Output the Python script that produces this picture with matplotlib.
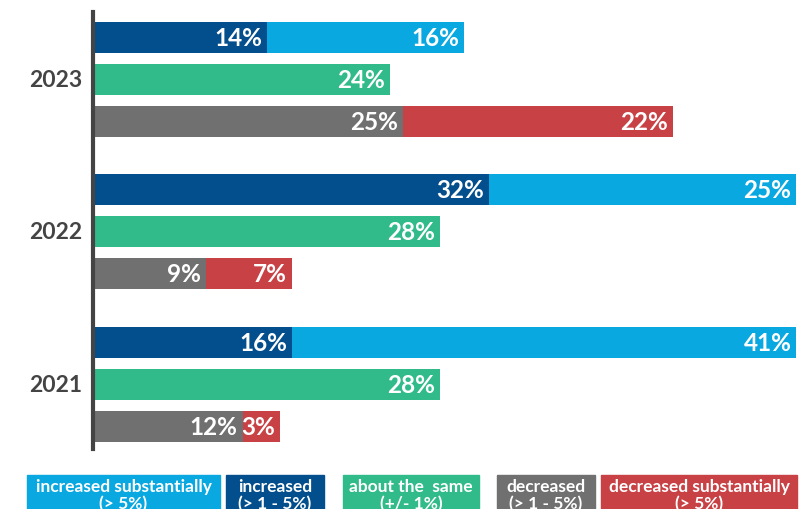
import matplotlib.pyplot as plt
from matplotlib.patches import Rectangle
from matplotlib.transforms import offset_copy

plt.rcParams['font.family'] = ['Lato', 'DejaVu Sans']

YEARS = ['2021', '2022', '2023']
INCREASED = [16, 32, 14]
INCREASED_SUB = [41, 25, 16]
SAME = [28, 28, 24]
DECREASED = [12, 9, 25]
DECREASED_SUB = [3, 7, 22]

LEGEND_LINE1 = ['increased substantially', 'increased', 'about the  same', 'decreased', 'decreased substantially']
LEGEND_LINE2 = ['(> 5%)', '(> 1 - 5%)', '(+/- 1%)', '(> 1 - 5%)', '(> 5%)']

C_INC_SUB = '#0aa8e0'
C_INC = '#034e8c'
C_SAME = '#31bb8a'
C_DEC = '#707070'
C_DEC_SUB = '#c84144'

W, H = 805, 510
fig = plt.figure(figsize=(W / 100, H / 100), dpi=100)
ax = fig.add_axes([95 / W, 1 - 450 / H, 710 / W, 437 / H])

GROUP = [0, 3.64, 7.26]
BH = 0.74


def label(x, y, val):
    t = offset_copy(ax.transData, fig=fig, x=-5, y=0, units='dots')
    ax.text(x, y, '%d%%' % val, transform=t, ha='right', va='center',
            color='white', fontsize=17.5, fontweight='bold')


for i, yr in enumerate(YEARS):
    g = GROUP[i]
    # increased row
    y = g + 1
    ax.barh(y, INCREASED[i], height=BH, color=C_INC)
    ax.barh(y, INCREASED_SUB[i], left=INCREASED[i], height=BH, color=C_INC_SUB)
    label(INCREASED[i], y, INCREASED[i])
    label(INCREASED[i] + INCREASED_SUB[i], y, INCREASED_SUB[i])
    # same row
    y = g
    ax.barh(y, SAME[i], height=BH, color=C_SAME)
    label(SAME[i], y, SAME[i])
    # decreased row
    y = g - 1
    ax.barh(y, DECREASED[i], height=BH, color=C_DEC)
    ax.barh(y, DECREASED_SUB[i], left=DECREASED[i], height=BH, color=C_DEC_SUB)
    label(DECREASED[i], y, DECREASED[i])
    label(DECREASED[i] + DECREASED_SUB[i], y, DECREASED_SUB[i])

ax.set_xlim(0, 57.7)
ax.set_ylim(-1.536, 8.87)
ax.set_xticks([])
ax.set_yticks([])
# year labels drawn by hand so size/weight stick
for g, yr in zip(GROUP, YEARS):
    t = offset_copy(ax.get_yaxis_transform(), fig=fig, x=-13, y=0, units='dots')
    ax.text(0, g, yr, transform=t, ha='right', va='center',
            fontsize=16.5, fontweight='bold', color='#444444')
for s in ['top', 'right', 'bottom']:
    ax.spines[s].set_visible(False)
ax.spines['left'].set_linewidth(3)
ax.spines['left'].set_color('#444444')
ax.spines['left'].set_position(('outward', 1.5))

# legend boxes along the bottom
boxes = [(27, 220, C_INC_SUB), (226, 324, C_INC), (343, 479, C_SAME),
         (497, 595, C_DEC), (601, 797, C_DEC_SUB)]
for (x0, x1, c), l1, l2 in zip(boxes, LEGEND_LINE1, LEGEND_LINE2):
    fig.patches.append(Rectangle((x0 / W, 0), (x1 - x0) / W, (H - 476) / H,
                                 transform=fig.transFigure, color=c, zorder=0))
    xc = (x0 + x1) / 2 / W
    fig.text(xc, 1 - 487 / H, l1, ha='center', va='center', color='white',
             fontsize=12.5, fontweight='bold')
    fig.text(xc, 1 - 504 / H, l2, ha='center', va='center', color='white',
             fontsize=12.5, fontweight='bold')

fig.savefig('out.png', dpi=100)
